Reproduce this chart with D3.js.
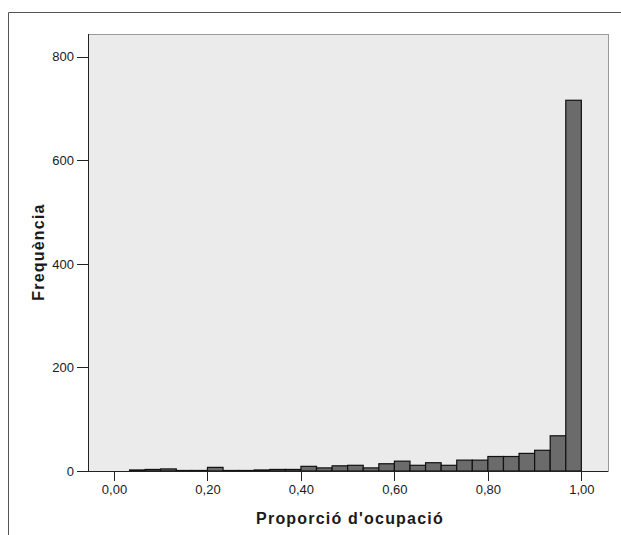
<!DOCTYPE html>
<html lang="ca">
  <head>
    <meta charset="utf-8">
    <title>Histograma proporció d'ocupació</title>
  </head>
  <style>
    body { margin: 0; background: #fff; }
    .axis text {
      font-family: 'Liberation Sans', Arial, sans-serif;
      font-size: 13px;
      fill: #1a1a1a;
    }
    .axis path, .axis line {
      stroke: #222;
      shape-rendering: crispEdges;
    }
    .axis_title {
      font-family: 'Liberation Sans', Arial, sans-serif;
      font-weight: bold;
      font-size: 16px;
      letter-spacing: 1.2px;
      fill: #1a1a1a;
      text-anchor: middle;
    }
  </style>
  <body>
    <div id="svg-area"></div>
    <script src="https://cdn.jsdelivr.net/npm/d3@7"></script>
    <script>
      const svg_width = 621;
      const svg_height = 535;

      // histogram: 30 bins of width 1/30 from 0 to 1
      const binWidth = 1 / 30;
      const counts = [0, 2, 3, 4, 1, 1, 7, 1, 1, 2,
                      3, 3, 9, 6, 10, 11, 6, 14, 19, 11,
                      16, 11, 21, 21, 28, 28, 34, 40, 68, 716];
      const xTicks = [0, 0.2, 0.4, 0.6, 0.8, 1.0];
      const yTicks = [0, 200, 400, 600, 800];
      const xTitle = "Proporció d'ocupació";
      const yTitle = 'Frequència';

      const plot = {left: 88, right: 608, top: 34, bottom: 471};

      const svg = d3.select('#svg-area')
        .append('svg')
        .attr('width', svg_width)
        .attr('height', svg_height);

      // outer frame (cropped at right and bottom)
      svg.append('path')
        .attr('d', `M8.5,${svg_height}V12.5H${svg_width}`)
        .attr('fill', 'none')
        .attr('stroke', '#555')
        .attr('stroke-width', 1);

      const x_scale = d3.scaleLinear()
        .domain([-0.0556, 1.057])
        .range([plot.left, plot.right]);
      const y_scale = d3.scaleLinear()
        .domain([0, 844])
        .range([plot.bottom, plot.top]);

      // plot background
      svg.append('rect')
        .attr('x', plot.left + 0.5)
        .attr('y', plot.top + 0.5)
        .attr('width', plot.right - plot.left)
        .attr('height', plot.bottom - plot.top)
        .attr('fill', '#ebebeb')
        .attr('stroke', '#999');

      // bars
      svg.append('g')
        .selectAll('rect').data(counts).enter()
        .append('rect')
        .attr('x', (d, i) => x_scale(i * binWidth))
        .attr('y', d => y_scale(d))
        .attr('width', (d, i) => x_scale((i + 1) * binWidth) - x_scale(i * binWidth))
        .attr('height', d => y_scale(0) - y_scale(d))
        .attr('fill', '#6b6b6b')
        .attr('stroke', '#111')
        .attr('stroke-width', 1.2);

      // axes
      const x_axis = d3.axisBottom(x_scale)
        .tickValues(xTicks)
        .tickSize(10)
        .tickSizeOuter(0)
        .tickPadding(4)
        .tickFormat(d => d3.format('.2f')(d).replace('.', ','));
      const y_axis = d3.axisLeft(y_scale)
        .tickValues(yTicks)
        .tickSize(11)
        .tickSizeOuter(0)
        .tickPadding(3);

      svg.append('g')
        .attr('class', 'axis')
        .attr('transform', `translate(0,${plot.bottom})`)
        .call(x_axis)
        .call(g => g.select('.domain').attr('d', `M${plot.left},0.5H${plot.right}`));
      svg.append('g')
        .attr('class', 'axis')
        .attr('transform', `translate(${plot.left},0)`)
        .call(y_axis)
        .call(g => g.select('.domain').attr('d', `M0.5,${plot.top}V${plot.bottom}`));

      // axis titles
      svg.append('text')
        .attr('class', 'axis_title')
        .attr('x', 350)
        .attr('y', 524)
        .text(xTitle);
      svg.append('text')
        .attr('class', 'axis_title')
        .attr('transform', 'translate(44,252) rotate(-90)')
        .text(yTitle);
    </script>
  </body>
</html>
